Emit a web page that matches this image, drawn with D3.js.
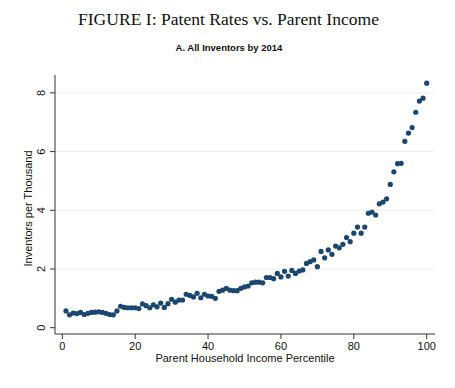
<!DOCTYPE html>
<html>
<head>
<meta charset="utf-8">
<script src="https://cdn.jsdelivr.net/npm/d3@7"></script>
<style>
  html, body { margin: 0; padding: 0; background: #fff; }
  svg { display: block; }
</style>
</head>
<body>
<div id="chart"></div>
<script>
// percentile of parent household income
const percentiles = d3.range(1, 101);
// inventors per thousand children, by parent income percentile
const inventorRates = [
  0.57, 0.44, 0.50, 0.48, 0.52, 0.45, 0.49, 0.52, 0.53, 0.54,
  0.52, 0.49, 0.45, 0.44, 0.57, 0.73, 0.69, 0.68, 0.68, 0.68,
  0.65, 0.81, 0.75, 0.68, 0.78, 0.71, 0.84, 0.69, 0.82, 0.97,
  0.87, 0.94, 0.94, 1.14, 1.10, 1.05, 1.17, 1.02, 1.14, 1.08,
  1.07, 1.00, 1.24, 1.28, 1.34, 1.28, 1.26, 1.26, 1.34, 1.39,
  1.42, 1.53, 1.55, 1.55, 1.53, 1.71, 1.71, 1.67, 1.85, 1.73,
  1.92, 1.76, 1.95, 1.85, 1.93, 1.97, 2.19, 2.25, 2.31, 2.08,
  2.60, 2.38, 2.65, 2.50, 2.78, 2.72, 2.84, 3.07, 2.93, 3.22,
  3.43, 3.22, 3.43, 3.90, 3.94, 3.84, 4.22, 4.28, 4.39, 4.88,
  5.31, 5.59, 5.60, 6.35, 6.63, 6.82, 7.34, 7.72, 7.82, 8.33
];
const xTicks = [0, 20, 40, 60, 80, 100];
const yTicks = [0, 2, 4, 6, 8];

const width = 455;
const height = 388;

const svg = d3.select('#chart')
  .append('svg')
  .attr('width', width)
  .attr('height', height)
  .style('background-color', '#fff');

// title block
svg.append('text')
  .attr('x', 228.5)
  .attr('y', 25)
  .attr('text-anchor', 'middle')
  .attr('font-family', 'Liberation Serif, serif')
  .attr('font-size', 16.5)
  .attr('fill', '#111')
  .attr('textLength', 301)
  .attr('lengthAdjust', 'spacingAndGlyphs')
  .text('FIGURE I: Patent Rates vs. Parent Income');

svg.append('text')
  .attr('x', 229)
  .attr('y', 50.5)
  .attr('text-anchor', 'middle')
  .attr('font-family', 'Liberation Sans, Arial, sans-serif')
  .attr('font-weight', 'bold')
  .attr('font-size', 9.5)
  .attr('fill', '#111')
  .text('A. All Inventors by 2014');

// plot frame
const plot = { left: 55, right: 435, top: 75, bottom: 334 };

const x = d3.scaleLinear().domain([0, 100]).range([62.3, 426.7]);
const y = d3.scaleLinear().domain([0, 8]).range([327.7, 92.9]);

// gridlines
svg.append('g')
  .selectAll('line')
  .data(yTicks.filter((d) => d > 0))
  .join('line')
  .attr('x1', plot.left)
  .attr('x2', plot.right)
  .attr('y1', (d) => y(d))
  .attr('y2', (d) => y(d))
  .attr('stroke', '#e8eef0')
  .attr('stroke-width', 1);

// x axis
const xAxis = svg.append('g')
  .attr('transform', `translate(0,${plot.bottom})`);
xAxis.append('line')
  .attr('x1', plot.left)
  .attr('x2', plot.right)
  .attr('stroke', '#777')
  .attr('stroke-width', 1.3);
xAxis.selectAll('.tick')
  .data(xTicks)
  .join('line')
  .attr('x1', (d) => x(d))
  .attr('x2', (d) => x(d))
  .attr('y1', 0)
  .attr('y2', 5)
  .attr('stroke', '#333');
xAxis.selectAll('text')
  .data(xTicks)
  .join('text')
  .attr('x', (d) => x(d))
  .attr('y', 16)
  .attr('text-anchor', 'middle')
  .attr('font-family', 'Liberation Sans, Arial, sans-serif')
  .attr('font-size', 11)
  .attr('fill', '#111')
  .text((d) => d);

svg.append('text')
  .attr('x', 245)
  .attr('y', 362)
  .attr('text-anchor', 'middle')
  .attr('font-family', 'Liberation Sans, Arial, sans-serif')
  .attr('font-size', 11)
  .attr('fill', '#111')
  .text('Parent Household Income Percentile');

// y axis
const yAxis = svg.append('g')
  .attr('transform', `translate(${plot.left},0)`);
yAxis.append('line')
  .attr('y1', plot.top)
  .attr('y2', plot.bottom)
  .attr('stroke', '#333')
  .attr('stroke-width', 1);
yAxis.selectAll('.tick')
  .data(yTicks)
  .join('line')
  .attr('x1', -5)
  .attr('x2', 0)
  .attr('y1', (d) => y(d))
  .attr('y2', (d) => y(d))
  .attr('stroke', '#333');
yAxis.selectAll('text')
  .data(yTicks)
  .join('text')
  .attr('transform', (d) => `translate(-10,${y(d)}) rotate(-90)`)
  .attr('text-anchor', 'middle')
  .attr('font-family', 'Liberation Sans, Arial, sans-serif')
  .attr('font-size', 11)
  .attr('fill', '#111')
  .text((d) => d);

svg.append('text')
  .attr('transform', `translate(32,${(plot.top + plot.bottom) / 2 + 4}) rotate(-90)`)
  .attr('text-anchor', 'middle')
  .attr('font-family', 'Liberation Sans, Arial, sans-serif')
  .attr('font-size', 11)
  .attr('fill', '#111')
  .text('Inventors per Thousand');

// points
svg.append('g')
  .selectAll('circle')
  .data(percentiles.map((p, i) => ({ p, v: inventorRates[i] })))
  .join('circle')
  .attr('cx', (d) => x(d.p))
  .attr('cy', (d) => y(d.v))
  .attr('r', 2.6)
  .attr('fill', '#1a476f');
</script>
</body>
</html>
